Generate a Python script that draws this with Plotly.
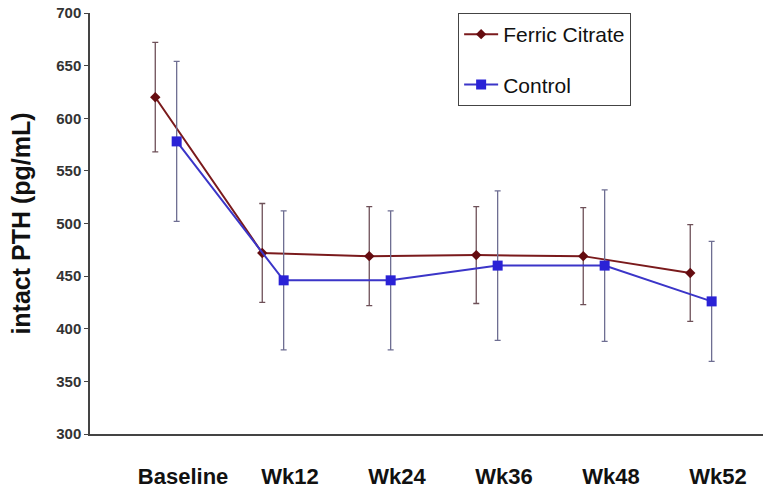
import plotly.graph_objects as go

categories = ["Baseline", "Wk12", "Wk24", "Wk36", "Wk48", "Wk52"]
ferric_mean = [620, 472, 469, 470, 469, 453]
ferric_err = [52, 47, 47, 46, 46, 46]
control_mean = [578, 446, 446, 460, 460, 426]
control_err = [76, 66, 66, 71, 72, 57]

idx = list(range(len(categories)))
offset = 0.1
x_ferric = [i - offset for i in idx]
x_control = [i + offset for i in idx]

fig = go.Figure()
fig.add_trace(go.Scatter(
    x=x_ferric, y=ferric_mean, name="Ferric Citrate", mode="lines+markers",
    line=dict(color="#7a1a1c", width=2),
    marker=dict(symbol="diamond", size=8, color="#650c10"),
    error_y=dict(type="data", array=ferric_err, visible=True,
                 color="#6e5058", thickness=1.3, width=3),
    legendgroup="a",
))
fig.add_trace(go.Scatter(
    x=x_control, y=control_mean, name="Control", mode="lines+markers",
    line=dict(color="#3b35c8", width=2),
    marker=dict(symbol="square", size=10, color="#2a22d6"),
    error_y=dict(type="data", array=control_err, visible=True,
                 color="#6e6e92", thickness=1.3, width=3),
    legendgroup="b",
))

fig.update_layout(
    width=763, height=494,
    margin=dict(l=90, r=0, t=13, b=60),
    paper_bgcolor="white", plot_bgcolor="white",
    font=dict(family="Liberation Sans, Arial, sans-serif", color="#222"),
    showlegend=True,
    legend=dict(
        x=0.547, y=1.0, xanchor="left", yanchor="top",
        bordercolor="#444", borderwidth=1, bgcolor="white",
        font=dict(size=21, color="#111"),
        tracegroupgap=20, itemwidth=34,
    ),
    xaxis=dict(
        range=[-0.71, 5.58], automargin=False,
        tickmode="array", tickvals=[i + 0.16 for i in idx], ticktext=categories,
        showgrid=False, zeroline=False,
        showline=True, linecolor="#444", linewidth=1.5,
        ticks="", ticklabelstandoff=22,
        tickfont=dict(size=22, color="#111", weight="bold"),
    ),
    yaxis=dict(
        range=[300, 700], dtick=50, automargin=False,
        showgrid=False, zeroline=False,
        showline=True, linecolor="#444", linewidth=1.5,
        ticks="outside", ticklen=4, tickcolor="#444",
        tickfont=dict(size=15, color="#333", weight="bold"),
        title=dict(text="intact PTH (pg/mL)", standoff=18,
                   font=dict(size=25, color="#111", weight="bold")),
    ),
)

html = fig.to_html(full_html=True, include_plotlyjs=True,
                   config={"displayModeBar": False})
html = html.replace("<body>", '<body style="margin:0;padding:0;overflow:hidden">', 1)
with open("out.html", "w", encoding="utf-8") as f:
    f.write(html)
